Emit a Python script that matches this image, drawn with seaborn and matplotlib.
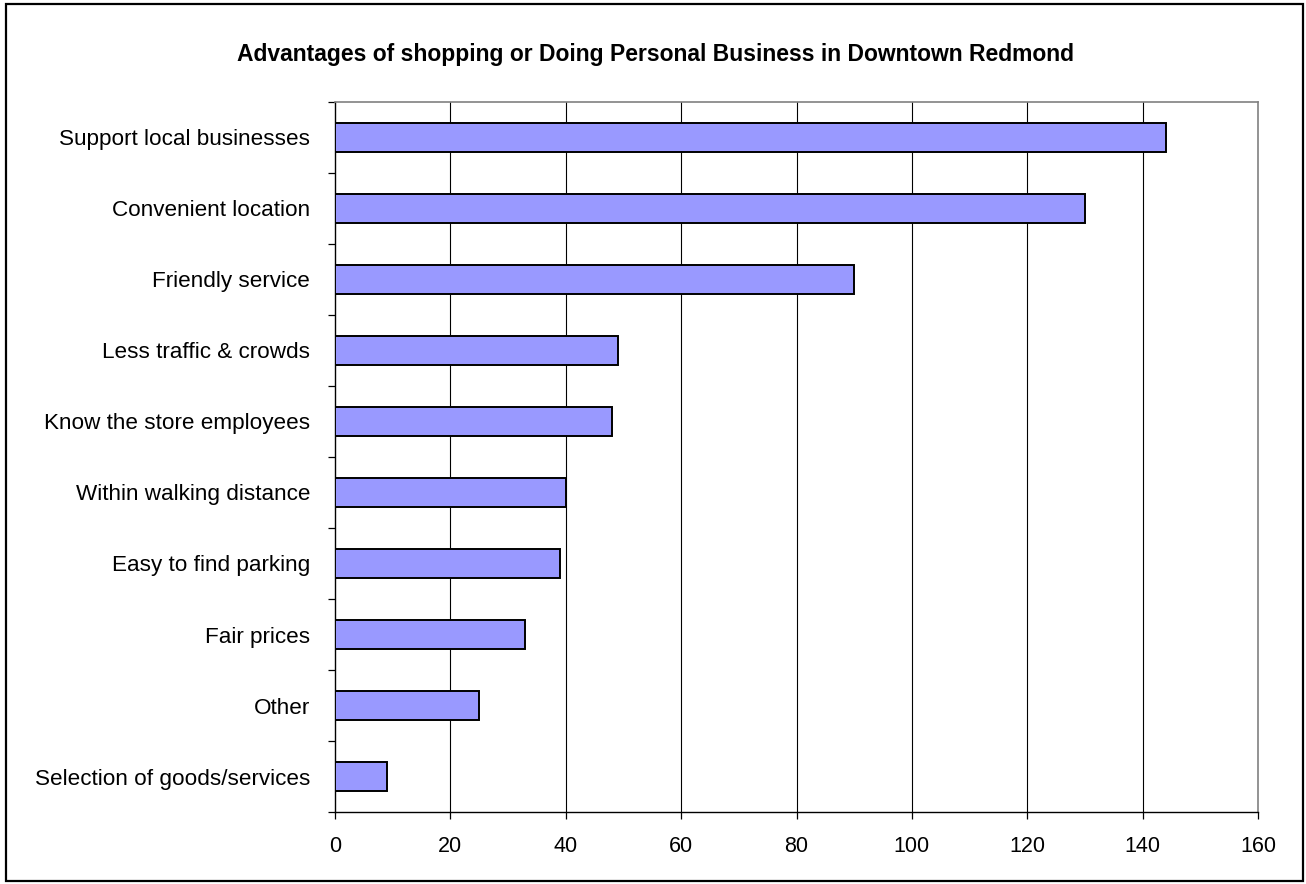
import matplotlib
matplotlib.use("Agg")
import matplotlib.pyplot as plt
from matplotlib.patches import Rectangle
import seaborn as sns
import pandas as pd

# Survey responses: advantages of shopping downtown
categories = [
    "Support local businesses",
    "Convenient location",
    "Friendly service",
    "Less traffic & crowds",
    "Know the store employees",
    "Within walking distance",
    "Easy to find parking",
    "Fair prices",
    "Other",
    "Selection of goods/services",
]
counts = [144, 130, 90, 49, 48, 40, 39, 33, 25, 9]
x_ticks = [0, 20, 40, 60, 80, 100, 120, 140, 160]
title = "Advantages of shopping or Doing Personal Business in Downtown Redmond"

df = pd.DataFrame({"category": categories, "count": counts})

sns.set_theme(style="white")
plt.rcParams["font.family"] = ["Liberation Sans", "DejaVu Sans"]
plt.rcParams["text.color"] = "black"
plt.rcParams["xtick.color"] = "black"
plt.rcParams["ytick.color"] = "black"

fig = plt.figure(figsize=(13.06, 8.84), dpi=100)
ax = fig.add_axes([335 / 1306, 1 - 812 / 884, (1258 - 335) / 1306, (812 - 102) / 884])

sns.barplot(data=df, x="count", y="category", order=categories, orient="h",
            color="#9999FF", saturation=1, width=0.41,
            edgecolor="black", linewidth=1.4, ax=ax, zorder=3)

ax.set_xlim(0, 160)
ax.set_ylim(len(categories) - 0.5, -0.5)
ax.set_xticks(x_ticks)
ax.set_xticklabels([str(t) for t in x_ticks], fontsize=15.5, color="black")
ax.set_xlabel("")
ax.set_ylabel("")

# vertical gridlines
for t in x_ticks[1:-1]:
    ax.axvline(t, color="black", linewidth=0.8, zorder=1)

# category labels centred, tick marks on the boundaries
ax.set_yticks(range(len(categories)))
ax.set_yticklabels(categories, fontsize=16.2, color="black")
ax.set_yticks([i - 0.5 for i in range(len(categories) + 1)], minor=True)
ax.tick_params(axis="y", which="major", length=0, pad=18)
ax.tick_params(axis="y", which="minor", left=True, length=5, width=0.9,
               color="black", direction="out")
ax.tick_params(axis="x", which="major", bottom=True, length=5, width=0.9,
               color="black", direction="out", pad=12)

for side in ["left", "bottom"]:
    ax.spines[side].set_color("black")
    ax.spines[side].set_linewidth(1.0)
for side in ["top", "right"]:
    ax.spines[side].set_color("#808080")
    ax.spines[side].set_linewidth(1.2)
    ax.spines[side].set_visible(True)

fig.text(656 / 1306, 1 - 54 / 884, title, ha="center", va="center",
         fontsize=16.5, fontweight="bold", color="black")

# outer chart border
fig.patches.append(Rectangle((6 / 1306, 3 / 884), 1297 / 1306, 877 / 884,
                             transform=fig.transFigure, fill=False,
                             edgecolor="black", linewidth=1.6))

fig.savefig("out.png", dpi=100, facecolor="white")
